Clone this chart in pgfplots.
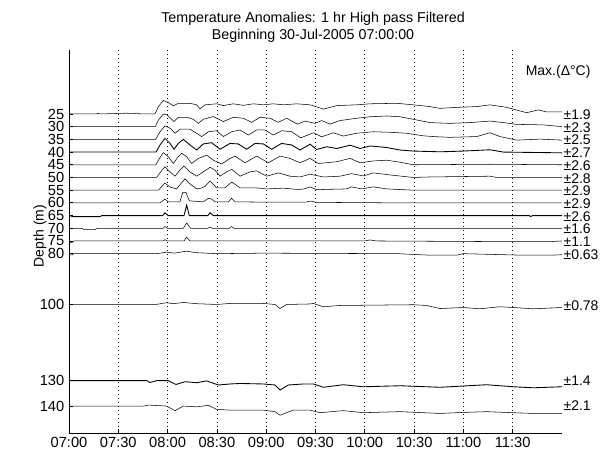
\documentclass[border=0pt]{standalone}
\usepackage{fontspec}
\setmainfont{Liberation Sans}
\usepackage{pgfplots}
\pgfplotsset{compat=1.18}

\begin{document}
\begin{tikzpicture}
\useasboundingbox (-51.75pt,-14.25pt) rectangle (398.25pt,324.75pt);
\begin{axis}[
  scale only axis,
  width=369.75pt, height=286.9pt,
  xmin=0, xmax=300,
  ymin=0, ymax=150.6,
  y dir=reverse,
  axis x line*=bottom,
  axis y line*=left,
  axis line style={black, line width=0.6pt},
  tick align=inside,
  major tick length=3pt,
  tick style={black, line width=0.6pt},
  xtick={0,30,60,90,120,150,180,210,240,270},
  xticklabels={07:00,07:30,08:00,08:30,09:00,09:30,10:00,10:30,11:00,11:30},
  ytick={25,30,35,40,45,50,55,60,65,70,75,80,100,130,140},
  /pgf/number format/assume math mode=true,
  ticklabel style={font=\fontsize{11}{13}\selectfont},
  xmajorgrids,
  grid style={black, line width=0.6pt, dash pattern=on 0.6pt off 2.4pt},
  ylabel={Depth (m)},
  ylabel style={font=\fontsize{10.5}{12}\selectfont, at={(rel axis cs:-0.059,0.515)}, anchor=center},
  clip=false,
  cycle list={{black, solid, no markers, line width=0.65pt, line join=round}},
]
% 25 m
\addplot coordinates {(0,25) (16.8,25) (17.5,24.7) (19,25) (35,24.7) (38,24.8) (41,24.7) (44,25) (52.3,25) (54.4,22.1) (57.4,19.7) (60.4,20.5) (63.5,21.8) (66.5,20.8) (73.6,20.8) (77.7,21.4) (79.7,23.0) (82.8,21.4) (89.9,21.0) (93.9,21.7) (100,21.0) (106.1,21.6) (112.2,21.0) (118.3,21.4) (124.3,21.0) (130.4,21.4) (138.5,21.0) (146.7,21.4) (154.8,23.1) (162.9,21.7) (175,21.4) (183.2,21.0) (199.4,20.8) (209.5,21.4) (219.7,22.1) (225.7,22.8) (235.9,22.4) (248.1,22.1) (256.2,21.4) (266.3,22.4) (278.5,24.5) (285.6,23.4) (290.6,24.2) (300,24.2)};
% 30 m
\addplot coordinates {(0,30) (52.5,30) (54.4,27.4) (57.4,25.0) (59.8,25.4) (62.5,27.1) (63.9,28.0) (66.5,26.3) (71.6,26.3) (75.6,27.1) (78.7,28.7) (81.7,27.1) (87.8,26.0) (93.9,28.0) (100,26.3) (106.1,26.7) (111.2,28.3) (116.2,26.3) (122.3,26.7) (127.4,28.3) (132.4,26.7) (139,29.0) (143.6,27.8) (149.7,28.7) (153.8,27.6) (158.8,29.0) (164.9,27.6) (175,26.7) (183.2,26.1) (193.3,25.8) (201.4,26.1) (209.5,27.1) (219.7,28.4) (231.8,28.7) (244,28.4) (256.2,27.8) (264.3,28.4) (272.4,29.1) (288.6,29.3) (300,30.0)};
% 35 m
\addplot coordinates {(0,35) (52.7,35) (55.4,32.0) (58.4,29.7) (61.5,30.6) (64.5,32.6) (67.5,31.0) (73.6,31.0) (77.7,32.6) (80.7,33.9) (84.8,32.0) (89.9,31.6) (93.9,33.9) (99,32.0) (104.1,31.3) (109.1,33.3) (114.2,31.3) (119.3,31.3) (124.3,33.3) (129.4,31.6) (135.5,32.0) (141,34.4) (148.7,32.4) (153.8,34.0) (160.8,32.4) (166.9,33.7) (175,32.6) (185.2,32.0) (195.3,32.2) (205.5,32.6) (215.6,33.6) (221.7,33.9) (231.8,34.2) (248.1,33.9) (256.2,32.4) (262.3,33.9) (272.4,35.3) (286.6,34.9) (300,35.3)};
% 40 m
\addplot coordinates {(0,40) (53,40) (55.4,37.2) (58.4,34.6) (61.5,36.6) (63.9,38.9) (66.5,36.6) (69.6,35.0) (73.6,37.2) (77.7,39.2) (81.7,36.8) (86.8,36.3) (91.9,38.9) (98,36.6) (103,36.8) (108.1,38.9) (113.2,36.6) (118.3,36.8) (123.3,38.9) (129.4,36.6) (135.5,37.2) (140.6,39.2) (146.7,36.9) (150.7,39.0) (156.8,37.9) (162.9,38.6) (171,37.3) (177.1,38.6) (183.2,37.6) (193.3,38.2) (201.4,39.2) (209.5,39.6) (225.8,39.9) (240,39.6) (256.2,39.1) (264.3,40.0) (300,40.3)};
% 45 m
\addplot coordinates {(0,45) (52.9,45) (54.4,43.2) (57.4,40.2) (60.4,41.8) (63.5,44.5) (66.5,41.8) (68.6,40.5) (71.6,41.8) (74.6,44.5) (78.7,42.5) (83.8,41.2) (87.8,43.2) (92.9,44.7) (98,42.5) (101,41.6) (107.1,44.2) (114.2,41.6) (121.3,44.2) (128.4,41.6) (134.5,42.5) (140.6,44.2) (146.7,42.5) (151.7,44.5) (162.9,43.8) (171,42.5) (177.1,44.2) (185.2,43.5) (193.3,43.2) (201.4,44.0) (209.5,45.0) (256.2,44.8) (300,45.0)};
% 50 m
\addplot coordinates {(0,50) (53.3,50) (55.8,47.8) (58.4,45.8) (61.5,47.8) (64.5,49.5) (67.5,47.1) (70,45.5) (73.6,47.8) (77.7,49.5) (81.7,47.8) (85.8,46.0) (88.8,47.1) (91.9,49.5) (95.9,47.8) (99,46.8) (104.1,49.5) (110.1,47.8) (114.2,47.4) (120.3,49.5) (127.4,48.2) (134.5,49.5) (140.6,49.8) (146.7,48.7) (154.8,49.8) (164.9,49.5) (172,48.5) (179.1,49.4) (185.2,48.2) (195.3,49.0) (209.5,50.0) (219.7,49.8) (256.2,49.5) (260.2,50.0) (300,50.0)};
% 55 m
\addplot coordinates {(0,55) (54.4,55) (58.4,52.2) (61.5,53.8) (65.5,54.5) (68,52.5) (70.6,50.5) (73.6,52.5) (77.7,54.5) (80.5,54.2) (82.8,53.5) (85.8,51.4) (89.9,54.1) (94.9,54.1) (99,51.8) (104.1,54.1) (114.2,54.1) (120.3,54.5) (130.4,54.2) (138.5,54.7) (142.6,54.6) (146.7,53.7) (150.7,54.8) (169,54.5) (172,53.7) (178.1,54.5) (185.2,53.7) (193.3,54.5) (209.5,55) (300,55)};
% 60 m
\addplot coordinates {(0,60) (55.4,60) (58.4,58.5) (60.4,59.6) (67.5,59.6) (69.2,55.9) (71.2,55.9) (73.2,59.2) (81.7,59.6) (84.8,58.2) (86.8,58.5) (88.8,59.6) (97,59.6) (99,58.2) (101,59.6) (118.3,59.7) (144,59.7) (146.7,59.3) (150.7,59.8) (200,60) (300,60)};
% 65 m
\addplot coordinates {(0,65) (2.5,65.4) (19,65.4) (20,65) (57,65) (58.4,63.9) (60.4,65) (70,65) (71.6,60.9) (73.2,65) (84.5,65) (85.8,63.9) (87.8,65) (280,65) (281,65.4) (282,65) (300,65)};
% 70 m
\addplot coordinates {(0,70) (8,70) (9,70.5) (16,70.5) (17,70) (57.4,70) (58.4,69.3) (59.8,70) (69.6,70) (71.6,67.9) (74,70) (84.5,70) (85.8,69.5) (87.2,70) (97.6,70) (99,69.3) (100.4,70) (300,70)};
% 75 m
\addplot coordinates {(0,75.5) (2,75.5) (3,75) (57.4,75) (58.4,74.5) (59.8,75) (70,75) (71.6,73.5) (73.6,75) (180,75) (183,74.6) (187,75) (276,75.3) (292,75.3) (300,75)};
% 80 m
\addplot coordinates {(0,80.5) (2,80.5) (3,80) (53.3,80) (59.4,79.4) (64,79.8) (71.6,79.0) (77,79.6) (89.9,80) (118,79.8) (200,80) (219.7,80.6) (235.9,80.6) (240,80) (276,80.6) (293,80.6) (300,80.4)};
% 100 m
\addplot coordinates {(0,100) (52.9,100) (59.4,99.3) (63.5,99.7) (69.6,99.2) (77.7,99.7) (89.9,100) (98,99.6) (118.3,99.6) (125.3,100) (128.4,101.6) (132.4,100) (146.7,99.8) (148.7,99.6) (154.8,100.9) (164.9,100.4) (179.1,100.3) (209.5,100.1) (217.6,100.4) (225.7,101.6) (239.9,101.2) (250.1,101.7) (262.2,100.9) (270.4,101.2) (282.5,101.7) (300,101.2)};
% 130 m
\addplot coordinates {(0,130) (47.3,130) (49.3,130.7) (53.3,130) (60.4,130) (65.1,131.5) (70.6,130.4) (77.7,130.8) (83.8,130.1) (90.9,131.7) (98,131.3) (104.1,131.1) (118.3,131.3) (125.3,131.7) (128.4,133.7) (133.5,131.7) (142.6,131.3) (148.7,131.3) (154.8,132.6) (166.9,131.6) (179.1,132.4) (201.4,132.0) (225.7,132.6) (254.1,131.6) (270.4,132.4) (282.5,132.8) (300,132.4)};
% 140 m
\addplot coordinates {(0,140) (45.2,140) (48.3,139.6) (59.4,140) (64.5,141.8) (69.6,140) (77.7,140.3) (84.8,139.7) (89.9,141.3) (98,141.6) (118.3,141.6) (125.3,142.2) (128.4,143.6) (136.5,141.6) (146.7,141.6) (152.7,142.6) (166.9,141.8) (179.1,142.6) (201.4,142.2) (225.7,142.9) (239.9,142.5) (254.1,142.2) (282.5,142.9) (300,142.9)};

% max amplitude labels
\begin{scope}[every node/.style={anchor=west, inner sep=1pt, font=\fontsize{10.5}{12}\selectfont}]
\node at (axis cs:300,25.3) {±1.9};
\node at (axis cs:300,30.3) {±2.3};
\node at (axis cs:300,35.3) {±2.5};
\node at (axis cs:300,40.3) {±2.7};
\node at (axis cs:300,45.3) {±2.6};
\node at (axis cs:300,50.3) {±2.8};
\node at (axis cs:300,55.3) {±2.9};
\node at (axis cs:300,60.3) {±2.9};
\node at (axis cs:300,65.3) {±2.6};
\node at (axis cs:300,70.3) {±1.6};
\node at (axis cs:300,75.3) {±1.1};
\node at (axis cs:300,80.3) {±0.63};
\node at (axis cs:300,100.3) {±0.78};
\node at (axis cs:300,130.0) {±1.4};
\node at (axis cs:300,140.0) {±2.1};
\node[anchor=east] at (axis cs:318.3,8.5) {Max.(Δ°C)};
\end{scope}
\begin{scope}[every node/.style={anchor=base, inner sep=0pt, font=\fontsize{10.7}{13}\selectfont}]
\node at (axis cs:148.5,-11.2) {Temperature Anomalies: 1 hr High pass Filtered};
\node at (axis cs:148.5,-4.3) {Beginning 30-Jul-2005 07:00:00};
\end{scope}
\end{axis}
\end{tikzpicture}
\end{document}
